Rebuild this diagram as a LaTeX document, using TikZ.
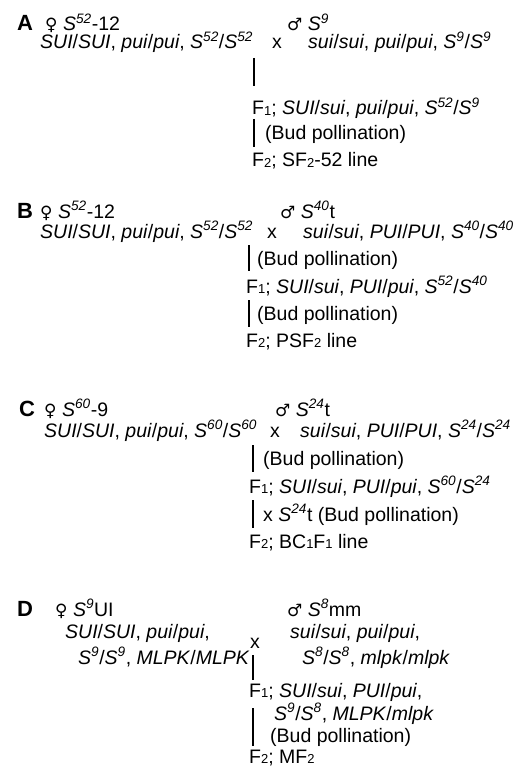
\documentclass[tikz,border=0pt]{standalone}
\usepackage{fontspec}
\setmainfont{Liberation Sans}
\newfontfamily\symfont{DejaVu Sans}
\usetikzlibrary{positioning}
\newcommand{\al}[2]{\textit{#1\textsuperscript{#2}}}
\newcommand{\lo}[1]{\raisebox{-0.3pt}{\fontsize{13}{13}\selectfont #1}}
\newcommand{\fem}{{\symfont\fontsize{17}{17}\selectfont ♀}}
\newcommand{\mal}{{\symfont\fontsize{17}{17}\selectfont ♂}}
\tikzset{
  gen/.style={anchor=base west, inner sep=0pt, font=\fontsize{19.5}{22}\selectfont},
  panel/.style={anchor=base west, inner sep=0pt, font=\fontsize{22}{24}\selectfont\bfseries},
  cross/.style={line width=1.2pt, color=black}
}

\begin{document}
\begin{tikzpicture}[x=1pt, y=-1pt]
\useasboundingbox (0,0) rectangle (532,770);
% A
\node[panel] (lA) at (17,31) {A};
\node[gen] (fA) at (45,31) {\fem\ \al{S}{52}-12};
\node[gen] (mA) at (287,31) {\mal\ \al{S}{9}};
\node[gen] (gfA) at (40,49) {\textit{SUI}/\textit{SUI}, \textit{pui}/\textit{pui}, \al{S}{52}/\al{S}{52}};
\node[gen] (xA) at (272,49) {x};
\node[gen] (gmA) at (308,49) {\textit{sui}/\textit{sui}, \textit{pui}/\textit{pui}, \al{S}{9}/\al{S}{9}};
\node[gen] (f1A) at (252,115) {F\lo{1}; \textit{SUI}/\textit{sui}, \textit{pui}/\textit{pui}, \al{S}{52}/\al{S}{9}};
\node[gen] (bA) at (265,140) {(Bud pollination)};
\node[gen] (f2A) at (252,167) {F\lo{2}; SF\lo{2}-52 line};
\coordinate (a1) at (254,58);
\coordinate (a2) at (254,86);
\coordinate (a3) at (254,119);
\coordinate (a4) at (254,147);
\draw[cross] (a1) -- (a2);
\draw[cross] (a3) -- (a4);

% B
\node[panel] (lB) at (17,218) {B};
\node[gen] (fB) at (40,218) {\fem\ \al{S}{52}-12};
\node[gen] (mB) at (280,218) {\mal\ \al{S}{40}t};
\node[gen] (gfB) at (40,238) {\textit{SUI}/\textit{SUI}, \textit{pui}/\textit{pui}, \al{S}{52}/\al{S}{52}};
\node[gen] (xB) at (267,238) {x};
\node[gen] (gmB) at (303,238) {\textit{sui}/\textit{sui}, \textit{PUI}/\textit{PUI}, \al{S}{40}/\al{S}{40}};
\node[gen] (b1B) at (257,265) {(Bud pollination)};
\node[gen] (f1B) at (246,293) {F\lo{1}; \textit{SUI}/\textit{sui}, \textit{PUI}/\textit{pui}, \al{S}{52}/\al{S}{40}};
\node[gen] (b2B) at (257,320) {(Bud pollination)};
\node[gen] (f2B) at (246,347) {F\lo{2}; PSF\lo{2} line};
\coordinate (b1) at (249,245);
\coordinate (b2) at (249,271);
\coordinate (b3) at (249,300);
\coordinate (b4) at (249,327);
\draw[cross] (b1) -- (b2);
\draw[cross] (b3) -- (b4);

% C
\node[panel] (lC) at (19,416) {C};
\node[gen] (fC) at (44,416) {\fem\ \al{S}{60}-9};
\node[gen] (mC) at (275,416) {\mal\ \al{S}{24}t};
\node[gen] (gfC) at (44,437) {\textit{SUI}/\textit{SUI}, \textit{pui}/\textit{pui}, \al{S}{60}/\al{S}{60}};
\node[gen] (xC) at (270,437) {x};
\node[gen] (gmC) at (300,437) {\textit{sui}/\textit{sui}, \textit{PUI}/\textit{PUI}, \al{S}{24}/\al{S}{24}};
\node[gen] (b1C) at (263,465) {(Bud pollination)};
\node[gen] (f1C) at (249,493) {F\lo{1}; \textit{SUI}/\textit{sui}, \textit{PUI}/\textit{pui}, \al{S}{60}/\al{S}{24}};
\node[gen] (b2C) at (263,521) {x \al{S}{24}t (Bud pollination)};
\node[gen] (f2C) at (249,548) {F\lo{2}; BC\lo{1}F\lo{1} line};
\coordinate (c1) at (253,445);
\coordinate (c2) at (253,472);
\coordinate (c3) at (253,500);
\coordinate (c4) at (253,528);
\draw[cross] (c1) -- (c2);
\draw[cross] (c3) -- (c4);

% D
\node[panel] (lD) at (17,616) {D};
\node[gen] (fD) at (55,616) {\fem\ \al{S}{9}UI};
\node[gen] (mD) at (287,616) {\mal\ \al{S}{8}mm};
\node[gen] (gfD1) at (65,638) {\textit{SUI}/\textit{SUI}, \textit{pui}/\textit{pui},};
\node[gen] (gfD2) at (78,664) {\al{S}{9}/\al{S}{9}, \textit{MLPK}/\textit{MLPK}};
\node[gen] (xD) at (250,648) {x};
\node[gen] (gmD1) at (290,638) {\textit{sui}/\textit{sui}, \textit{pui}/\textit{pui},};
\node[gen] (gmD2) at (302,664) {\al{S}{8}/\al{S}{8}, \textit{mlpk}/\textit{mlpk}};
\node[gen] (f1D) at (249,697) {F\lo{1}; \textit{SUI}/\textit{sui}, \textit{PUI}/\textit{pui},};
\node[gen] (f1D2) at (274,720) {\al{S}{9}/\al{S}{8}, \textit{MLPK}/\textit{mlpk}};
\node[gen] (bD) at (270,742) {(Bud pollination)};
\node[gen] (f2D) at (249,763) {F\lo{2}; MF\lo{2}};
\coordinate (d1) at (253,655);
\coordinate (d2) at (253,680);
\coordinate (d3) at (253,708);
\coordinate (d4) at (253,746);
\draw[cross] (d1) -- (d2);
\draw[cross] (d3) -- (d4);
\end{tikzpicture}
\end{document}
